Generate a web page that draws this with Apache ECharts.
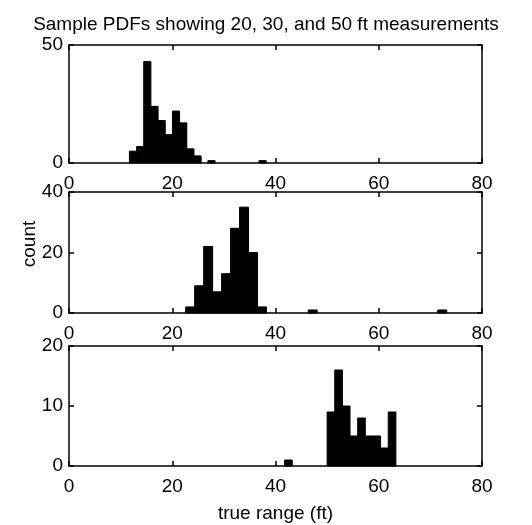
<!DOCTYPE html>
<html>
<head>
<meta charset="utf-8">
<script src="https://cdn.jsdelivr.net/npm/echarts@6/dist/echarts.min.js"></script>
<style>
  html, body { margin: 0; padding: 0; background: #fff; }
  #chart { width: 532px; height: 525px; }
</style>
</head>
<body>
<div id="chart"></div>
<script>
// bin centres (ft) and counts
const p1Width = 1.39
const p1Centers = [12.40, 13.79, 15.17, 16.56, 17.95, 19.34, 20.73, 22.12, 23.51, 24.90, 27.6, 37.5]
const p1Counts = [5, 7, 43, 24, 18, 12, 22, 17, 6, 3, 1, 1]

const p2Width = 1.74
const p2Centers = [23.47, 25.21, 26.95, 28.69, 30.43, 32.17, 33.91, 35.65, 37.39, 47.2, 72.3]
const p2Counts = [2, 9, 22, 7, 13, 28, 35, 20, 2, 1, 1]

const p3Width = 1.48
const p3Centers = [42.5, 50.74, 52.22, 53.70, 55.18, 56.66, 58.14, 59.62, 61.10, 62.58]
const p3Counts = [1, 9, 16, 10, 5, 8, 5, 5, 3, 9]

const xTicks = [0, 20, 40, 60, 80]
const yMax = [50, 40, 20]
const yStep = [50, 20, 10]

const font = 'Liberation Sans, Arial, sans-serif'
const fontSize = 19

const grids = [
    { left: 69, right: 50, top: 45, height: 118 },
    { left: 69, right: 50, top: 192, height: 121 },
    { left: 69, right: 50, top: 346, height: 120 }
]

const panels = [
    { centers: p1Centers, counts: p1Counts, width: p1Width },
    { centers: p2Centers, counts: p2Counts, width: p2Width },
    { centers: p3Centers, counts: p3Counts, width: p3Width }
]

const lineStyle = { color: '#000', width: 1.5 }

const xAxis = []
const yAxis = []
const series = []

panels.forEach((p, i) => {
    // bottom axis with labels, top axis only for the box + ticks
    xAxis.push({
        gridIndex: i, type: 'value', min: 0, max: 80, interval: 20, position: 'bottom',
        axisLine: { show: true, onZero: false, lineStyle },
        axisTick: { show: true, inside: true, length: 5, lineStyle },
        axisLabel: {
            color: '#000', fontFamily: font, fontSize, margin: 11,
            formatter: v => xTicks.includes(v) ? String(v) : ''
        },
        splitLine: { show: false },
        name: i === 2 ? 'true range (ft)' : '',
        nameLocation: 'middle',
        nameGap: 38,
        nameTextStyle: { color: '#000', fontFamily: font, fontSize }
    })
    xAxis.push({
        gridIndex: i, type: 'value', min: 0, max: 80, interval: 20, position: 'top',
        axisLine: { show: true, onZero: false, lineStyle },
        axisTick: { show: true, inside: true, length: 5, lineStyle },
        axisLabel: { show: false },
        splitLine: { show: false }
    })
    yAxis.push({
        gridIndex: i, type: 'value', min: 0, max: yMax[i], interval: yStep[i], position: 'left',
        axisLine: { show: true, onZero: false, lineStyle },
        axisTick: { show: true, inside: true, length: 5, lineStyle },
        axisLabel: { color: '#000', fontFamily: font, fontSize, margin: 6 },
        splitLine: { show: false }
    })
    yAxis.push({
        gridIndex: i, type: 'value', min: 0, max: yMax[i], interval: yStep[i], position: 'right',
        axisLine: { show: true, onZero: false, lineStyle },
        axisTick: { show: true, inside: true, length: 5, lineStyle },
        axisLabel: { show: false },
        splitLine: { show: false }
    })

    const data = p.centers.map((c, k) => [c, p.counts[k]])
    series.push({
        type: 'custom',
        xAxisIndex: i * 2,
        yAxisIndex: i * 2,
        data: data,
        encode: { x: 0, y: 1 },
        renderItem: (params, api) => {
            const c = api.value(0)
            const n = api.value(1)
            const a = api.coord([c - p.width / 2, n])
            const b = api.coord([c + p.width / 2, 0])
            return {
                type: 'rect',
                shape: { x: a[0], y: a[1], width: b[0] - a[0], height: b[1] - a[1] },
                // stroke closes the hairline gaps between neighbouring bins
                style: { fill: '#000', stroke: '#000', lineWidth: 1 }
            }
        }
    })
})

const myChart = echarts.init(document.getElementById('chart'))
const option = {
    backgroundColor: '#fff',
    animation: false,
    title: {
        text: 'Sample PDFs showing 20, 30, and 50 ft measurements',
        left: 'center',
        top: 10,
        textStyle: { color: '#000', fontFamily: font, fontSize, fontWeight: 'normal' }
    },
    grid: grids,
    xAxis: xAxis,
    yAxis: yAxis,
    graphic: [
        {
            type: 'text',
            x: 20,
            y: 244,
            rotation: Math.PI / 2,
            style: {
                text: 'count', fill: '#000', font: fontSize + 'px ' + font,
                textAlign: 'center', textVerticalAlign: 'top'
            }
        }
    ],
    series: series
}
myChart.setOption(option)
</script>
</body>
</html>
